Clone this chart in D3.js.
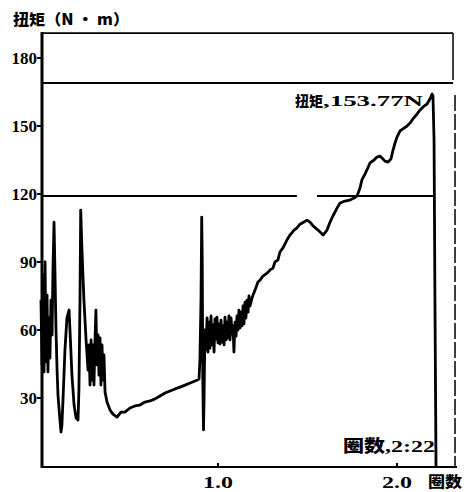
<!DOCTYPE html>
<html><head><meta charset="utf-8">
<script src="https://cdn.jsdelivr.net/npm/d3@7"></script>
<style>body{margin:0;background:#fff} svg{display:block}</style>
</head><body>
<script>
// ---- data (revolutions vs torque, N·m) ----
const revs = [0.011,0.017,0.022,0.028,0.034,0.039,0.045,0.050,0.056,0.061,0.067,0.073,
  0.078,0.084,0.089,0.095,0.101,0.106,0.117,0.123,0.128,0.134,0.145,0.156,0.168,0.173,0.184,0.196,0.207,0.218,0.223,0.229,0.233,0.240,0.251,0.263,0.274,
  0.279,0.285,0.291,0.296,0.302,0.307,0.313,0.318,0.324,0.330,0.335,0.341,0.346,0.352,0.358,0.363,
  0.369,0.380,0.397,0.413,0.436,0.458,0.480,0.508,0.536,0.564,0.592,0.620,0.648,0.676,0.704,0.732,0.760,0.788,0.816,0.844,0.872,0.894,
  0.899,0.905,0.909,0.912,0.915,0.919,0.922,0.927,
  0.933,0.939,0.944,0.950,0.955,0.961,0.966,0.972,0.978,0.983,0.989,0.994,1.000,1.006,1.011,1.017,1.022,1.028,1.034,1.039,1.045,1.050,1.056,1.061,1.067,1.073,1.078,1.084,1.089,1.095,1.101,1.106,1.112,1.117,1.123,1.128,1.134,1.140,1.145,1.151,1.156,1.162,1.168,1.173,1.179,1.190,1.196,
  1.207,1.223,1.235,1.251,1.274,1.291,1.307,1.318,1.335,1.346,1.363,1.385,1.402,1.425,1.441,1.458,1.480,1.497,1.514,1.531,1.559,1.587,1.609,1.626,1.642,1.665,1.682,1.709,1.737,1.760,1.777,1.793,1.804,1.821,1.832,1.849,1.872,1.888,1.905,1.916,1.933,1.950,1.966,1.978,1.989,2.000,2.017,2.039,2.056,2.073,2.089,2.112,2.128,2.151,2.168,2.184,2.196,
  2.201,2.207,2.212,2.218];
const torque = [73.2,44.6,84.3,41.5,90.0,45.9,75.4,41.5,65.3,47.6,73.2,57.8,
  86.5,107.6,86.5,60.0,42.3,31.3,20.3,15.0,18.1,29.1,51.2,65.3,68.8,60.0,40.1,26.9,21.2,20.3,33.5,73.2,112.9,95.3,73.2,55.6,42.3,
  53.4,35.7,55.6,37.9,53.4,35.7,55.6,68.8,44.6,57.8,40.1,56.5,35.7,53.4,37.9,49.0,
  32.6,28.2,24.7,22.9,21.6,23.8,23.8,25.6,26.5,26.9,28.2,28.7,29.6,30.9,32.2,33.1,34.0,34.8,35.7,36.6,37.5,38.4,
  46.8,73.2,109.8,90.9,37.9,15.9,29.1,60.0,
  51.2,65.3,50.3,63.5,52.0,66.2,53.4,62.2,50.3,64.9,56.0,65.7,54.3,62.7,53.8,64.4,54.7,61.8,53.4,65.7,55.6,63.5,56.5,66.2,55.6,65.3,58.2,61.8,50.3,63.5,57.3,66.2,60.0,68.8,60.9,67.9,61.8,70.6,62.7,72.3,65.3,73.2,67.9,75.0,70.6,74.1,75.4,
  77.6,81.2,82.0,83.8,85.1,86.5,87.3,90.0,90.9,94.4,96.2,99.7,101.9,104.1,105.0,106.7,107.6,108.5,107.6,105.9,104.1,101.9,104.1,107.6,110.3,113.8,116.0,116.9,117.3,118.2,119.1,122.6,126.2,128.8,130.6,133.7,135.0,136.3,136.7,135.9,134.5,134.1,135.4,139.4,142.5,145.1,147.8,149.1,150.0,151.3,153.1,155.3,157.0,158.8,159.7,161.9,164.1,
  163.2,143.8,73.2,0];

const yTicks = [30, 60, 90, 120, 150, 180];
const xTicks = [1.0, 2.0];
const xTickLabels = ["1.0", "2.0"];
const limitLines = [169, 120];        // horizontal reference lines (N·m)
const frameTop = 191;                 // top border value
const frameRight = 2.313;             // right border (rev)
const axisEnd = 2.335;                // end of x axis (rev)
const gap120 = [1.441, 1.553];        // printing gap in the 120 line
const yTitle = "扭矩（N · m）";
const xTitle = "圈数";
const peakName = "扭矩", peakValue = ",153.77N";
const revName = "圈数", revValue = ",2:22";

// ---- drawing ----
const W = 466, H = 492;
const x = d3.scaleLinear().domain([0, 2]).range([39, 397]);
const y = d3.scaleLinear().domain([0, 180]).range([466, 58]);
const svg = d3.select("body").append("svg").attr("width", W).attr("height", H);
const serif = "'Liberation Serif','DejaVu Serif',serif";
const cjk = "'Noto Sans CJK SC','Noto Sans CJK JP',sans-serif";

const ax0 = x(0) + 3;                 // y axis position
const yBase = y(0) + 1;               // x axis position

// frame lines
svg.append("line").attr("x1", ax0).attr("x2", ax0).attr("y1", y(frameTop) - 1).attr("y2", yBase + 1)
  .attr("stroke", "#000").attr("stroke-width", 3);
svg.append("line").attr("x1", ax0).attr("x2", x(axisEnd)).attr("y1", yBase).attr("y2", yBase)
  .attr("stroke", "#000").attr("stroke-width", 2.2);
svg.append("line").attr("x1", ax0).attr("x2", x(frameRight)).attr("y1", y(frameTop)).attr("y2", y(frameTop))
  .attr("stroke", "#000").attr("stroke-width", 1.8);
svg.append("line").attr("x1", x(frameRight)).attr("x2", x(frameRight)).attr("y1", y(frameTop)).attr("y2", y(limitLines[0]) - 3)
  .attr("stroke", "#000").attr("stroke-width", 1.5);
svg.append("line").attr("x1", x(frameRight) + 2).attr("x2", x(frameRight) + 2).attr("y1", y(limitLines[0]) + 12).attr("y2", yBase)
  .attr("stroke", "#000").attr("stroke-width", 1.5).attr("stroke-dasharray", "16,3");
svg.append("line").attr("x1", ax0).attr("x2", x(frameRight)).attr("y1", y(limitLines[0])).attr("y2", y(limitLines[0]))
  .attr("stroke", "#000").attr("stroke-width", 2);
const lastRev = revs[revs.length - 1];
[[0, gap120[0]], [gap120[1], lastRev - 0.01]].forEach(([a, b]) => {
  svg.append("line").attr("x1", a === 0 ? ax0 : x(a)).attr("x2", x(b))
    .attr("y1", y(limitLines[1]) + 2).attr("y2", y(limitLines[1]) + 2)
    .attr("stroke", "#000").attr("stroke-width", 2);
});

// y ticks and labels
yTicks.forEach(t => {
  svg.append("line").attr("x1", ax0 - 5).attr("x2", ax0).attr("y1", y(t)).attr("y2", y(t))
    .attr("stroke", "#000").attr("stroke-width", 2);
  svg.append("text").attr("x", ax0 - 5).attr("y", y(t)).attr("dy", "0.36em")
    .attr("text-anchor", "end").attr("font-family", serif).attr("font-weight", "bold")
    .attr("font-size", 17).text(t);
});
// x ticks and labels
xTicks.forEach((t, i) => {
  svg.append("line").attr("x1", x(t)).attr("x2", x(t)).attr("y1", yBase - 4).attr("y2", yBase)
    .attr("stroke", "#000").attr("stroke-width", 2);
  svg.append("text").attr("x", x(t) - 15).attr("y", 488)
    .attr("font-family", serif).attr("font-weight", "bold").attr("font-size", 16)
    .attr("textLength", 30).attr("lengthAdjust", "spacingAndGlyphs").text(xTickLabels[i]);
});

// curve
const line = d3.line().x(d => x(d[0])).y(d => y(d[1]));
svg.append("path").datum(revs.map((r, i) => [r, torque[i]]))
  .attr("d", line).attr("fill", "none").attr("stroke", "#000")
  .attr("stroke-width", 2.8).attr("stroke-linejoin", "round");

// titles and annotations
svg.append("text").attr("x", 13).attr("y", 25).attr("font-family", cjk).attr("font-weight", 900)
  .attr("font-size", 15).attr("textLength", 116).attr("lengthAdjust", "spacingAndGlyphs").text(yTitle);
svg.append("text").attr("x", 428).attr("y", 487).attr("font-family", cjk).attr("font-weight", 900)
  .attr("font-size", 15).attr("textLength", 34).attr("lengthAdjust", "spacingAndGlyphs").text(xTitle);

svg.append("text").attr("x", 295).attr("y", 106).attr("font-family", cjk).attr("font-weight", 900)
  .attr("font-size", 14).text(peakName);
svg.append("text").attr("x", 323).attr("y", 106).attr("font-family", serif).attr("font-weight", "bold")
  .attr("font-size", 15).attr("textLength", 100).attr("lengthAdjust", "spacingAndGlyphs").text(peakValue);

svg.append("text").attr("x", 343).attr("y", 452).attr("font-family", cjk).attr("font-weight", 900)
  .attr("font-size", 17).attr("textLength", 42).attr("lengthAdjust", "spacingAndGlyphs").text(revName);
svg.append("text").attr("x", 385).attr("y", 452).attr("font-family", serif).attr("font-weight", "bold")
  .attr("font-size", 16).attr("textLength", 50).attr("lengthAdjust", "spacingAndGlyphs").text(revValue);
</script>
</body></html>
